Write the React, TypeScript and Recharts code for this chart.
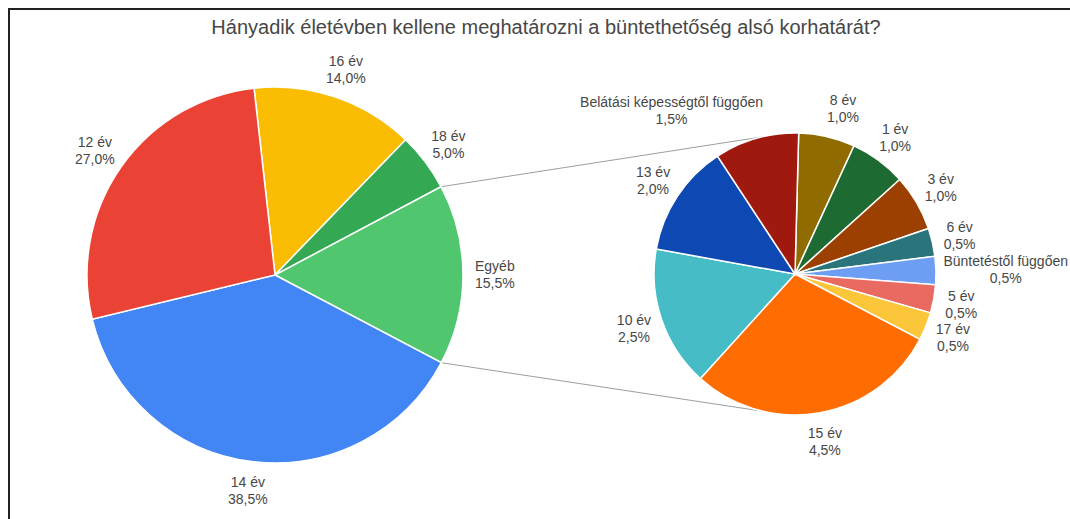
import React from 'react';
import { PieChart, Pie, Cell, Customized } from 'recharts';

const TITLE = 'Hányadik életévben kellene meghatározni a büntethetőség alsó korhatárát?';

// Main pie (clockwise from the top, starting just left of 12 o'clock)
const mainLabels = ['16 év', '18 év', 'Egyéb', '14 év', '12 év'];
const mainValues = [14.0, 5.0, 15.5, 38.5, 27.0];
const mainColors = ['#fbbc04', '#34a853', '#50c76e', '#4285f4', '#ea4335'];
const OTHER_INDEX = 2;

// Breakdown of "Egyéb" (values are % of all answers)
const detailLabels = [
  '8 év', '1 év', '3 év', '6 év', 'Büntetéstől függően', '5 év', '17 év',
  '15 év', '10 év', '13 év', 'Belátási képességtől függően',
];
const detailValues = [1.0, 1.0, 1.0, 0.5, 0.5, 0.5, 0.5, 4.5, 2.5, 2.0, 1.5];
const detailColors = [
  '#8f6b00', '#1e6a33', '#9b4000', '#2a757c', '#6d9ef3', '#e96a60', '#fbc63a',
  '#ff6d01', '#46bdc6', '#0e48b2', '#a0190f',
];

const W = 1070;
const H = 519;
const FONT = '"Liberation Sans", Arial, Helvetica, sans-serif';
const FS = 14;
const LH = 17;
const D = 12;
const GAP = 32;
const EDGE = 2;
const TEXT = '#474747';

const MAIN = { cx: 275, cy: 275, r: 188, start: 96.4 };
const DETAIL = { cx: 795, cy: 274, r: 141, start: 88.5 };
const CONNECT_ANGLE = 13.4;

const pct = (v: number) => v.toFixed(1).replace('.', ',') + '%';

let ctx: CanvasRenderingContext2D | null = null;
function measure(s: string, size: number) {
  if (typeof document !== 'undefined') {
    if (!ctx) ctx = document.createElement('canvas').getContext('2d');
    if (ctx) {
      ctx.font = `${size}px ${FONT}`;
      return ctx.measureText(s).width;
    }
  }
  return s.length * size * 0.55;
}

type Geo = { cx: number; cy: number; r: number; start: number };
type Box = { x: number; y: number; w: number; h: number; s: number };

function layout(labels: string[], values: number[], geo: Geo): Box[] {
  const total = values.reduce((a, b) => a + b, 0);
  let cum = 0;
  const boxes = labels.map((lab, i) => {
    const deg = 90 - geo.start + ((cum + values[i] / 2) / total) * 360;
    cum += values[i];
    const t = (deg * Math.PI) / 180;
    const s = Math.sin(t);
    const c = Math.cos(t);
    const w = Math.max(measure(lab, FS), measure(pct(values[i]), FS));
    const h = 2 * LH;
    const px = geo.cx + (geo.r + D) * s;
    const py = geo.cy - (geo.r + D) * c;
    return { x: px + (w / 2) * s, y: py - (h / 2) * c, w, h, s };
  });
  const orig = boxes.map((b) => ({ ...b }));
  boxes.forEach((b, i) => {
    const clash = orig.some(
      (o, j) => j !== i && Math.sign(o.s) !== Math.sign(b.s) && Math.abs(o.y - b.y) < (o.h + b.h) / 2,
    );
    if (clash) {
      if (b.s > 0) {
        const minL = geo.cx + GAP;
        if (b.x - b.w / 2 < minL) b.x = minL + b.w / 2;
      } else {
        const maxR = geo.cx - GAP;
        if (b.x + b.w / 2 > maxR) b.x = maxR - b.w / 2;
      }
    }
    // keep labels inside the chart area
    if (b.x + b.w / 2 > W - EDGE) b.x = W - EDGE - b.w / 2;
    if (b.x - b.w / 2 < EDGE) b.x = EDGE + b.w / 2;
  });
  return boxes;
}

function makeLabel(labels: string[], values: number[], geo: Geo) {
  let boxes: Box[] | null = null;
  return (props: any) => {
    if (!boxes) boxes = layout(labels, values, geo);
    const i = props.index;
    const b = boxes[i];
    return (
      <text
        key={`lbl-${labels[i]}`}
        x={b.x}
        y={b.y}
        textAnchor="middle"
        fontFamily={FONT}
        fontSize={FS}
        fill={TEXT}
      >
        <tspan x={b.x} y={b.y - LH / 2} dominantBaseline="central">{labels[i]}</tspan>
        <tspan x={b.x} y={b.y + LH / 2} dominantBaseline="central">{pct(values[i])}</tspan>
      </text>
    );
  };
}

const mainData = mainLabels.map((name, i) => ({ name, value: mainValues[i] }));
const detailData = detailLabels.map((name, i) => ({ name, value: detailValues[i] }));

function Overlay() {
  const total = mainValues.reduce((a, b) => a + b, 0);
  const before = mainValues.slice(0, OTHER_INDEX).reduce((a, b) => a + b, 0);
  const a0 = 90 - MAIN.start + (before / total) * 360;
  const a1 = a0 + (mainValues[OTHER_INDEX] / total) * 360;
  const pt = (g: Geo, deg: number) => {
    const t = (deg * Math.PI) / 180;
    return [g.cx + g.r * Math.sin(t), g.cy - g.r * Math.cos(t)];
  };
  const p0 = pt(MAIN, a0);
  const p1 = pt(MAIN, a1);
  const q0 = pt(DETAIL, 360 - CONNECT_ANGLE);
  const q1 = pt(DETAIL, 180 + CONNECT_ANGLE);
  return (
    <g>
      <text x={546} y={27} textAnchor="middle" dominantBaseline="central" fontFamily={FONT} fontSize={20} fill={TEXT}>
        {TITLE}
      </text>
      <line x1={p0[0]} y1={p0[1]} x2={q0[0]} y2={q0[1]} stroke="#9e9e9e" strokeWidth={1} />
      <line x1={p1[0]} y1={p1[1]} x2={q1[0]} y2={q1[1]} stroke="#9e9e9e" strokeWidth={1} />
    </g>
  );
}

export default function App() {
  return (
    <div style={{ position: 'fixed', left: 0, top: 0, width: W, height: H, overflow: 'hidden', background: '#fff' }}>
      <div style={{ position: 'absolute', left: 0, top: 0 }}>
        <PieChart width={W} height={H} margin={{ top: 0, right: 0, bottom: 0, left: 0 }}>
          <Customized component={Overlay} />
          <Pie
            data={mainData}
            dataKey="value"
            nameKey="name"
            cx={MAIN.cx}
            cy={MAIN.cy}
            outerRadius={MAIN.r}
            startAngle={MAIN.start}
            endAngle={MAIN.start - 360}
            stroke="#ffffff"
            strokeWidth={1.5}
            isAnimationActive={false}
            labelLine={false}
            label={makeLabel(mainLabels, mainValues, MAIN)}
          >
            {mainData.map((d, i) => (
              <Cell key={d.name} fill={mainColors[i]} />
            ))}
          </Pie>
          <Pie
            data={detailData}
            dataKey="value"
            nameKey="name"
            cx={DETAIL.cx}
            cy={DETAIL.cy}
            outerRadius={DETAIL.r}
            startAngle={DETAIL.start}
            endAngle={DETAIL.start - 360}
            stroke="#ffffff"
            strokeWidth={1.5}
            isAnimationActive={false}
            labelLine={false}
            label={makeLabel(detailLabels, detailValues, DETAIL)}
          >
            {detailData.map((d, i) => (
              <Cell key={d.name} fill={detailColors[i]} />
            ))}
          </Pie>
        </PieChart>
      </div>
      <div
        style={{
          position: 'absolute',
          left: 8,
          top: 8,
          width: W - 8,
          height: H - 8,
          borderTop: '2px solid #222',
          borderLeft: '2px solid #222',
          boxSizing: 'border-box',
          pointerEvents: 'none',
        }}
      />
    </div>
  );
}
